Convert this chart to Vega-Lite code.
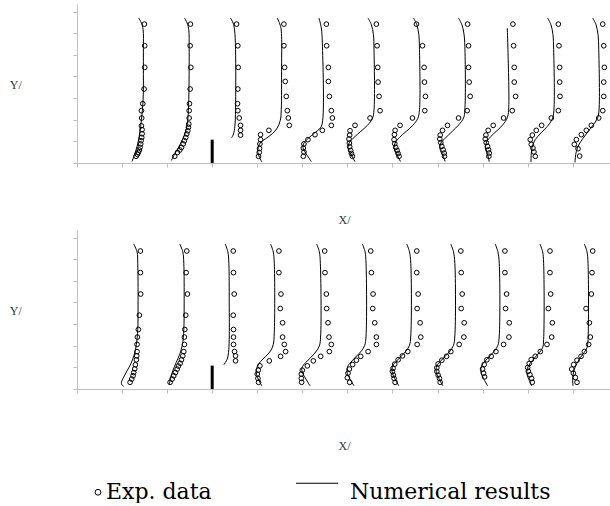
{
  "$schema": "https://vega.github.io/schema/vega-lite/v6.json",
  "padding": {"left": 9, "top": 4, "right": 0, "bottom": 0},
  "background": "white",
  "spacing": 4,
  "config": {
    "view": {"stroke": null},
    "axis": {"domainColor": "#bfbfbf", "tickColor": "#bfbfbf", "tickSize": 4, "labels": false, "grid": false, "titleFont": "Liberation Serif", "titleFontSize": 12, "titleFontWeight": "normal", "titleColor": "#333333"},
    "axisX": {"titlePadding": 47},
    "axisY": {"titleAngle": 0, "titleX": -61.7, "titleY": 80, "titleAlign": "center", "titleBaseline": "middle"}
  },
  "datasets": {
    "topLines": [
      {"profile":1,"x":1.369,"y":6.70},{"profile":1,"x":1.43,"y":6.47},{"profile":1,"x":1.467,"y":6.16},{"profile":1,"x":1.473,"y":5.3},{"profile":1,"x":1.473,"y":4.46},{"profile":1,"x":1.467,"y":2.93},{"profile":1,"x":1.429,"y":2.0},{"profile":1,"x":1.392,"y":1.39},{"profile":1,"x":1.333,"y":0.77},{"profile":1,"x":1.273,"y":0.38},{"profile":1,"x":1.222,"y":0.07},
      {"profile":2,"x":2.384,"y":6.70},{"profile":2,"x":2.445,"y":6.47},{"profile":2,"x":2.48,"y":6.16},{"profile":2,"x":2.489,"y":5.3},{"profile":2,"x":2.489,"y":4.46},{"profile":2,"x":2.48,"y":2.93},{"profile":2,"x":2.458,"y":2.0},{"profile":2,"x":2.413,"y":1.46},{"profile":2,"x":2.34,"y":1.08},{"profile":2,"x":2.244,"y":0.69},{"profile":2,"x":2.147,"y":0.34},{"profile":2,"x":2.096,"y":0.12},
      {"profile":3,"x":3.407,"y":6.70},{"profile":3,"x":3.465,"y":6.47},{"profile":3,"x":3.496,"y":6.16},{"profile":3,"x":3.518,"y":5.24},{"profile":3,"x":3.518,"y":2.46},{"profile":3,"x":3.503,"y":1.69},{"profile":3,"x":3.473,"y":1.34},{"profile":3,"x":3.429,"y":1.16},
      {"profile":4,"x":4.444,"y":6.70},{"profile":4,"x":4.518,"y":6.31},{"profile":4,"x":4.54,"y":5.85},{"profile":4,"x":4.54,"y":4.46},{"profile":4,"x":4.533,"y":2.46},{"profile":4,"x":4.511,"y":1.97},{"profile":4,"x":4.444,"y":1.62},{"profile":4,"x":4.333,"y":1.35},{"profile":4,"x":4.184,"y":1.12},{"profile":4,"x":4.073,"y":0.95},{"profile":4,"x":4.022,"y":0.72},{"profile":4,"x":4.013,"y":0.49},{"profile":4,"x":4.051,"y":0.26},{"profile":4,"x":4.102,"y":0.05},
      {"profile":5,"x":5.37,"y":6.70},{"profile":5,"x":5.422,"y":6.24},{"profile":5,"x":5.444,"y":5.55},{"profile":5,"x":5.444,"y":1.85},{"profile":5,"x":5.392,"y":1.60},{"profile":5,"x":5.274,"y":1.39},{"profile":5,"x":5.148,"y":1.17},{"profile":5,"x":5.044,"y":0.95},{"profile":5,"x":5.014,"y":0.72},{"profile":5,"x":5.073,"y":0.46},{"profile":5,"x":5.148,"y":0.23},{"profile":5,"x":5.2,"y":0.06},
      {"profile":6,"x":6.458,"y":6.70},{"profile":6,"x":6.533,"y":6.39},{"profile":6,"x":6.578,"y":5.93},{"profile":6,"x":6.591,"y":5.24},{"profile":6,"x":6.591,"y":2.46},{"profile":6,"x":6.556,"y":2.06},{"profile":6,"x":6.444,"y":1.74},{"profile":6,"x":6.296,"y":1.46},{"profile":6,"x":6.147,"y":1.18},{"profile":6,"x":6.044,"y":0.95},{"profile":6,"x":6.014,"y":0.72},{"profile":6,"x":6.051,"y":0.49},{"profile":6,"x":6.111,"y":0.28},{"profile":6,"x":6.169,"y":0.06},
      {"profile":7,"x":7.467,"y":6.70},{"profile":7,"x":7.541,"y":6.39},{"profile":7,"x":7.585,"y":5.93},{"profile":7,"x":7.6,"y":5.24},{"profile":7,"x":7.6,"y":2.46},{"profile":7,"x":7.563,"y":2.06},{"profile":7,"x":7.452,"y":1.74},{"profile":7,"x":7.304,"y":1.46},{"profile":7,"x":7.156,"y":1.18},{"profile":7,"x":7.059,"y":0.92},{"profile":7,"x":7.036,"y":0.72},{"profile":7,"x":7.07,"y":0.49},{"profile":7,"x":7.125,"y":0.28},{"profile":7,"x":7.178,"y":0.07},
      {"profile":8,"x":8.467,"y":6.70},{"profile":8,"x":8.541,"y":6.39},{"profile":8,"x":8.585,"y":6.0},{"profile":8,"x":8.607,"y":5.39},{"profile":8,"x":8.607,"y":2.46},{"profile":8,"x":8.578,"y":2.08},{"profile":8,"x":8.474,"y":1.77},{"profile":8,"x":8.326,"y":1.46},{"profile":8,"x":8.178,"y":1.16},{"profile":8,"x":8.074,"y":0.92},{"profile":8,"x":8.051,"y":0.69},{"profile":8,"x":8.089,"y":0.46},{"profile":8,"x":8.133,"y":0.28},{"profile":8,"x":8.169,"y":0.07},
      {"profile":9,"x":9.548,"y":6.24},{"profile":9,"x":9.563,"y":5.24},{"profile":9,"x":9.578,"y":2.46},{"profile":9,"x":9.548,"y":2.09},{"profile":9,"x":9.451,"y":1.77},{"profile":9,"x":9.318,"y":1.49},{"profile":9,"x":9.185,"y":1.23},{"profile":9,"x":9.089,"y":0.97},{"profile":9,"x":9.059,"y":0.72},{"profile":9,"x":9.089,"y":0.49},{"profile":9,"x":9.125,"y":0.28},{"profile":9,"x":9.148,"y":0.06},
      {"profile":10,"x":10.444,"y":6.70},{"profile":10,"x":10.518,"y":6.39},{"profile":10,"x":10.562,"y":5.93},{"profile":10,"x":10.578,"y":5.24},{"profile":10,"x":10.578,"y":2.31},{"profile":10,"x":10.54,"y":2.0},{"profile":10,"x":10.436,"y":1.69},{"profile":10,"x":10.296,"y":1.39},{"profile":10,"x":10.17,"y":1.08},{"profile":10,"x":10.104,"y":0.77},{"profile":10,"x":10.081,"y":0.46},{"profile":10,"x":10.074,"y":0.05},
      {"profile":11,"x":11.444,"y":6.70},{"profile":11,"x":11.518,"y":6.39},{"profile":11,"x":11.562,"y":5.93},{"profile":11,"x":11.578,"y":5.24},{"profile":11,"x":11.578,"y":2.31},{"profile":11,"x":11.54,"y":2.03},{"profile":11,"x":11.451,"y":1.75},{"profile":11,"x":11.34,"y":1.45},{"profile":11,"x":11.229,"y":1.14},{"profile":11,"x":11.133,"y":0.83},{"profile":11,"x":11.081,"y":0.54},{"profile":11,"x":11.059,"y":0.25},{"profile":11,"x":11.051,"y":0.03}
    ],
    "topPoints": [
      {"profile":1,"x":1.496,"y":6.42},{"profile":1,"x":1.503,"y":5.42},{"profile":1,"x":1.503,"y":4.42},{"profile":1,"x":1.489,"y":3.42},{"profile":1,"x":1.459,"y":2.74},{"profile":1,"x":1.429,"y":2.42},{"profile":1,"x":1.436,"y":2.08},{"profile":1,"x":1.429,"y":1.72},{"profile":1,"x":1.444,"y":1.54},{"profile":1,"x":1.444,"y":1.35},{"profile":1,"x":1.436,"y":1.18},{"profile":1,"x":1.422,"y":1.03},{"profile":1,"x":1.414,"y":0.88},{"profile":1,"x":1.4,"y":0.72},{"profile":1,"x":1.384,"y":0.60},{"profile":1,"x":1.362,"y":0.49},{"profile":1,"x":1.34,"y":0.40},{"profile":1,"x":1.311,"y":0.31},
      {"profile":2,"x":2.518,"y":6.42},{"profile":2,"x":2.511,"y":5.42},{"profile":2,"x":2.525,"y":4.42},{"profile":2,"x":2.511,"y":3.42},{"profile":2,"x":2.496,"y":2.74},{"profile":2,"x":2.489,"y":2.42},{"profile":2,"x":2.489,"y":2.08},{"profile":2,"x":2.481,"y":1.80},{"profile":2,"x":2.473,"y":1.65},{"profile":2,"x":2.458,"y":1.49},{"profile":2,"x":2.436,"y":1.34},{"profile":2,"x":2.413,"y":1.18},{"profile":2,"x":2.384,"y":1.03},{"profile":2,"x":2.356,"y":0.88},{"profile":2,"x":2.318,"y":0.72},{"profile":2,"x":2.281,"y":0.60},{"profile":2,"x":2.23,"y":0.49},{"profile":2,"x":2.169,"y":0.31},
      {"profile":3,"x":3.54,"y":6.42},{"profile":3,"x":3.569,"y":5.42},{"profile":3,"x":3.577,"y":4.42},{"profile":3,"x":3.569,"y":3.42},{"profile":3,"x":3.562,"y":2.74},{"profile":3,"x":3.569,"y":2.42},{"profile":3,"x":3.6,"y":2.08},{"profile":3,"x":3.629,"y":1.74},{"profile":3,"x":3.629,"y":1.51},{"profile":3,"x":3.629,"y":1.29},
      {"profile":4,"x":4.592,"y":6.42},{"profile":4,"x":4.592,"y":5.42},{"profile":4,"x":4.607,"y":4.42},{"profile":4,"x":4.622,"y":3.77},{"profile":4,"x":4.644,"y":3.08},{"profile":4,"x":4.667,"y":2.42},{"profile":4,"x":4.689,"y":2.08},{"profile":4,"x":4.711,"y":1.74},{"profile":4,"x":4.258,"y":1.51},{"profile":4,"x":4.073,"y":1.31},{"profile":4,"x":4.073,"y":1.08},{"profile":4,"x":4.059,"y":0.88},{"profile":4,"x":4.051,"y":0.67},{"profile":4,"x":4.044,"y":0.49},{"profile":4,"x":4.029,"y":0.31},
      {"profile":5,"x":5.533,"y":6.42},{"profile":5,"x":5.54,"y":5.42},{"profile":5,"x":5.578,"y":4.42},{"profile":5,"x":5.578,"y":3.77},{"profile":5,"x":5.6,"y":3.08},{"profile":5,"x":5.644,"y":2.42},{"profile":5,"x":5.667,"y":2.08},{"profile":5,"x":5.644,"y":1.74},{"profile":5,"x":5.444,"y":1.51},{"profile":5,"x":5.281,"y":1.31},{"profile":5,"x":5.125,"y":1.08},{"profile":5,"x":5.036,"y":0.88},{"profile":5,"x":5.022,"y":0.69},{"profile":5,"x":5.036,"y":0.51},{"profile":5,"x":5.022,"y":0.31},
      {"profile":6,"x":6.644,"y":6.42},{"profile":6,"x":6.659,"y":5.42},{"profile":6,"x":6.673,"y":4.42},{"profile":6,"x":6.681,"y":3.74},{"profile":6,"x":6.703,"y":3.08},{"profile":6,"x":6.725,"y":2.42},{"profile":6,"x":6.503,"y":2.08},{"profile":6,"x":6.169,"y":1.74},{"profile":6,"x":6.059,"y":1.49},{"profile":6,"x":6.051,"y":1.29},{"profile":6,"x":6.036,"y":1.11},{"profile":6,"x":6.044,"y":0.92},{"profile":6,"x":6.051,"y":0.75},{"profile":6,"x":6.073,"y":0.58},{"profile":6,"x":6.089,"y":0.44},{"profile":6,"x":6.111,"y":0.31},
      {"profile":7,"x":7.533,"y":6.42},{"profile":7,"x":7.667,"y":5.42},{"profile":7,"x":7.703,"y":4.42},{"profile":7,"x":7.711,"y":3.74},{"profile":7,"x":7.733,"y":3.08},{"profile":7,"x":7.718,"y":2.42},{"profile":7,"x":7.444,"y":2.08},{"profile":7,"x":7.169,"y":1.74},{"profile":7,"x":7.059,"y":1.51},{"profile":7,"x":7.044,"y":1.31},{"profile":7,"x":7.036,"y":1.08},{"profile":7,"x":7.051,"y":0.89},{"profile":7,"x":7.073,"y":0.72},{"profile":7,"x":7.103,"y":0.58},{"profile":7,"x":7.125,"y":0.44},{"profile":7,"x":7.147,"y":0.31},
      {"profile":8,"x":8.667,"y":6.42},{"profile":8,"x":8.689,"y":5.42},{"profile":8,"x":8.689,"y":4.42},{"profile":8,"x":8.703,"y":3.74},{"profile":8,"x":8.725,"y":3.08},{"profile":8,"x":8.659,"y":2.42},{"profile":8,"x":8.467,"y":2.08},{"profile":8,"x":8.222,"y":1.74},{"profile":8,"x":8.111,"y":1.51},{"profile":8,"x":8.059,"y":1.29},{"profile":8,"x":8.051,"y":1.11},{"profile":8,"x":8.073,"y":0.94},{"profile":8,"x":8.096,"y":0.77},{"profile":8,"x":8.125,"y":0.61},{"profile":8,"x":8.148,"y":0.46},{"profile":8,"x":8.155,"y":0.31},
      {"profile":9,"x":9.674,"y":6.42},{"profile":9,"x":9.689,"y":5.42},{"profile":9,"x":9.703,"y":4.42},{"profile":9,"x":9.703,"y":3.74},{"profile":9,"x":9.733,"y":3.08},{"profile":9,"x":9.659,"y":2.42},{"profile":9,"x":9.466,"y":2.08},{"profile":9,"x":9.236,"y":1.74},{"profile":9,"x":9.125,"y":1.51},{"profile":9,"x":9.074,"y":1.29},{"profile":9,"x":9.059,"y":1.11},{"profile":9,"x":9.081,"y":0.94},{"profile":9,"x":9.111,"y":0.77},{"profile":9,"x":9.133,"y":0.61},{"profile":9,"x":9.148,"y":0.46},{"profile":9,"x":9.14,"y":0.31},
      {"profile":10,"x":10.681,"y":6.42},{"profile":10,"x":10.696,"y":5.42},{"profile":10,"x":10.711,"y":4.42},{"profile":10,"x":10.711,"y":3.74},{"profile":10,"x":10.718,"y":3.08},{"profile":10,"x":10.681,"y":2.42},{"profile":10,"x":10.525,"y":2.08},{"profile":10,"x":10.311,"y":1.74},{"profile":10,"x":10.192,"y":1.51},{"profile":10,"x":10.104,"y":1.29},{"profile":10,"x":10.059,"y":1.08},{"profile":10,"x":10.081,"y":0.86},{"profile":10,"x":10.118,"y":0.69},{"profile":10,"x":10.14,"y":0.51},{"profile":10,"x":10.17,"y":0.31},
      {"profile":11,"x":11.667,"y":6.42},{"profile":11,"x":11.689,"y":5.42},{"profile":11,"x":11.703,"y":4.42},{"profile":11,"x":11.689,"y":3.74},{"profile":11,"x":11.689,"y":3.08},{"profile":11,"x":11.667,"y":2.42},{"profile":11,"x":11.578,"y":2.08},{"profile":11,"x":11.414,"y":1.74},{"profile":11,"x":11.303,"y":1.51},{"profile":11,"x":11.192,"y":1.31},{"profile":11,"x":11.081,"y":1.08},{"profile":11,"x":11.036,"y":0.86},{"profile":11,"x":11.118,"y":0.66},{"profile":11,"x":11.155,"y":0.32}
    ],
    "bottomLines": [
      {"profile":1,"x":1.259,"y":6.70},{"profile":1,"x":1.333,"y":6.34},{"profile":1,"x":1.348,"y":5.81},{"profile":1,"x":1.355,"y":3.98},{"profile":1,"x":1.348,"y":2.75},{"profile":1,"x":1.318,"y":2.06},{"profile":1,"x":1.273,"y":1.61},{"profile":1,"x":1.2,"y":1.19},{"profile":1,"x":1.111,"y":0.84},{"profile":1,"x":1.037,"y":0.55},{"profile":1,"x":0.985,"y":0.31},{"profile":1,"x":0.992,"y":0.21},{"profile":1,"x":1.037,"y":0.12},
      {"profile":2,"x":2.281,"y":6.70},{"profile":2,"x":2.348,"y":6.34},{"profile":2,"x":2.37,"y":5.81},{"profile":2,"x":2.378,"y":3.98},{"profile":2,"x":2.37,"y":2.75},{"profile":2,"x":2.34,"y":2.05},{"profile":2,"x":2.281,"y":1.61},{"profile":2,"x":2.2,"y":1.22},{"profile":2,"x":2.126,"y":0.84},{"profile":2,"x":2.074,"y":0.50},{"profile":2,"x":2.048,"y":0.18},
      {"profile":3,"x":3.289,"y":6.70},{"profile":3,"x":3.348,"y":6.34},{"profile":3,"x":3.37,"y":5.81},{"profile":3,"x":3.378,"y":3.98},{"profile":3,"x":3.378,"y":2.29},{"profile":3,"x":3.362,"y":1.68},{"profile":3,"x":3.333,"y":1.38},{"profile":3,"x":3.259,"y":1.12},
      {"profile":4,"x":4.296,"y":6.70},{"profile":4,"x":4.355,"y":6.34},{"profile":4,"x":4.378,"y":5.81},{"profile":4,"x":4.378,"y":2.60},{"profile":4,"x":4.355,"y":2.06},{"profile":4,"x":4.296,"y":1.76},{"profile":4,"x":4.184,"y":1.50},{"profile":4,"x":4.073,"y":1.27},{"profile":4,"x":4.0,"y":1.04},{"profile":4,"x":3.978,"y":0.76},{"profile":4,"x":4.022,"y":0.46},{"profile":4,"x":4.102,"y":0.15},
      {"profile":5,"x":5.318,"y":6.70},{"profile":5,"x":5.378,"y":6.34},{"profile":5,"x":5.4,"y":5.81},{"profile":5,"x":5.407,"y":2.45},{"profile":5,"x":5.378,"y":1.99},{"profile":5,"x":5.296,"y":1.71},{"profile":5,"x":5.185,"y":1.45},{"profile":5,"x":5.074,"y":1.22},{"profile":5,"x":4.992,"y":0.98},{"profile":5,"x":5.007,"y":0.73},{"profile":5,"x":5.081,"y":0.46},{"profile":5,"x":5.17,"y":0.15},
      {"profile":6,"x":6.333,"y":6.70},{"profile":6,"x":6.392,"y":6.34},{"profile":6,"x":6.414,"y":5.81},{"profile":6,"x":6.414,"y":2.45},{"profile":6,"x":6.385,"y":2.02},{"profile":6,"x":6.311,"y":1.76},{"profile":6,"x":6.207,"y":1.53},{"profile":6,"x":6.103,"y":1.30},{"profile":6,"x":6.014,"y":1.07},{"profile":6,"x":5.992,"y":0.79},{"profile":6,"x":6.051,"y":0.49},{"profile":6,"x":6.147,"y":0.15},
      {"profile":7,"x":7.318,"y":6.70},{"profile":7,"x":7.378,"y":6.34},{"profile":7,"x":7.407,"y":5.81},{"profile":7,"x":7.407,"y":2.45},{"profile":7,"x":7.378,"y":2.02},{"profile":7,"x":7.303,"y":1.76},{"profile":7,"x":7.2,"y":1.53},{"profile":7,"x":7.096,"y":1.30},{"profile":7,"x":7.007,"y":1.07},{"profile":7,"x":6.992,"y":0.79},{"profile":7,"x":7.051,"y":0.49},{"profile":7,"x":7.14,"y":0.15},
      {"profile":8,"x":8.296,"y":6.70},{"profile":8,"x":8.355,"y":6.34},{"profile":8,"x":8.385,"y":5.81},{"profile":8,"x":8.385,"y":2.45},{"profile":8,"x":8.355,"y":2.02},{"profile":8,"x":8.281,"y":1.76},{"profile":8,"x":8.178,"y":1.53},{"profile":8,"x":8.074,"y":1.30},{"profile":8,"x":7.985,"y":1.07},{"profile":8,"x":7.97,"y":0.79},{"profile":8,"x":8.029,"y":0.49},{"profile":8,"x":8.118,"y":0.15},
      {"profile":9,"x":9.281,"y":6.70},{"profile":9,"x":9.34,"y":6.34},{"profile":9,"x":9.37,"y":5.81},{"profile":9,"x":9.37,"y":2.45},{"profile":9,"x":9.34,"y":2.02},{"profile":9,"x":9.266,"y":1.76},{"profile":9,"x":9.163,"y":1.53},{"profile":9,"x":9.059,"y":1.30},{"profile":9,"x":8.978,"y":1.07},{"profile":9,"x":8.963,"y":0.79},{"profile":9,"x":9.022,"y":0.49},{"profile":9,"x":9.111,"y":0.15},
      {"profile":10,"x":10.273,"y":6.70},{"profile":10,"x":10.333,"y":6.34},{"profile":10,"x":10.355,"y":5.81},{"profile":10,"x":10.355,"y":2.29},{"profile":10,"x":10.333,"y":1.91},{"profile":10,"x":10.259,"y":1.68},{"profile":10,"x":10.155,"y":1.44},{"profile":10,"x":10.059,"y":1.19},{"profile":10,"x":9.992,"y":0.95},{"profile":10,"x":9.985,"y":0.69},{"profile":10,"x":10.029,"y":0.43},{"profile":10,"x":10.089,"y":0.15},
      {"profile":11,"x":11.259,"y":6.70},{"profile":11,"x":11.318,"y":6.34},{"profile":11,"x":11.34,"y":5.81},{"profile":11,"x":11.34,"y":2.29},{"profile":11,"x":11.318,"y":1.91},{"profile":11,"x":11.259,"y":1.70},{"profile":11,"x":11.17,"y":1.45},{"profile":11,"x":11.096,"y":1.19},{"profile":11,"x":11.037,"y":0.92},{"profile":11,"x":11.007,"y":0.64},{"profile":11,"x":11.0,"y":0.38},{"profile":11,"x":11.007,"y":0.15}
    ],
    "bottomPoints": [
      {"profile":1,"x":1.407,"y":6.38},{"profile":1,"x":1.407,"y":5.38},{"profile":1,"x":1.414,"y":4.39},{"profile":1,"x":1.384,"y":3.41},{"profile":1,"x":1.362,"y":2.75},{"profile":1,"x":1.34,"y":2.40},{"profile":1,"x":1.333,"y":2.06},{"profile":1,"x":1.333,"y":1.73},{"profile":1,"x":1.326,"y":1.53},{"profile":1,"x":1.318,"y":1.35},{"profile":1,"x":1.296,"y":1.12},{"profile":1,"x":1.281,"y":0.93},{"profile":1,"x":1.259,"y":0.76},{"profile":1,"x":1.244,"y":0.61},{"profile":1,"x":1.215,"y":0.46},{"profile":1,"x":1.178,"y":0.31},
      {"profile":2,"x":2.437,"y":6.38},{"profile":2,"x":2.422,"y":5.38},{"profile":2,"x":2.451,"y":4.39},{"profile":2,"x":2.414,"y":3.41},{"profile":2,"x":2.392,"y":2.75},{"profile":2,"x":2.384,"y":2.40},{"profile":2,"x":2.384,"y":2.06},{"profile":2,"x":2.37,"y":1.73},{"profile":2,"x":2.348,"y":1.53},{"profile":2,"x":2.318,"y":1.35},{"profile":2,"x":2.289,"y":1.19},{"profile":2,"x":2.251,"y":1.06},{"profile":2,"x":2.222,"y":0.92},{"profile":2,"x":2.184,"y":0.76},{"profile":2,"x":2.147,"y":0.61},{"profile":2,"x":2.111,"y":0.46},{"profile":2,"x":2.066,"y":0.31},
      {"profile":3,"x":3.467,"y":6.38},{"profile":3,"x":3.473,"y":5.38},{"profile":3,"x":3.489,"y":4.39},{"profile":3,"x":3.467,"y":3.41},{"profile":3,"x":3.473,"y":2.75},{"profile":3,"x":3.473,"y":2.40},{"profile":3,"x":3.473,"y":2.06},{"profile":3,"x":3.496,"y":1.73},{"profile":3,"x":3.518,"y":1.53},{"profile":3,"x":3.518,"y":1.30},
      {"profile":4,"x":4.481,"y":6.38},{"profile":4,"x":4.481,"y":5.38},{"profile":4,"x":4.526,"y":4.39},{"profile":4,"x":4.511,"y":3.72},{"profile":4,"x":4.562,"y":3.06},{"profile":4,"x":4.562,"y":2.40},{"profile":4,"x":4.6,"y":2.06},{"profile":4,"x":4.629,"y":1.73},{"profile":4,"x":4.518,"y":1.51},{"profile":4,"x":4.267,"y":1.30},{"profile":4,"x":4.059,"y":1.07},{"profile":4,"x":4.022,"y":0.87},{"profile":4,"x":4.0,"y":0.69},{"profile":4,"x":4.015,"y":0.49},{"profile":4,"x":4.029,"y":0.31},
      {"profile":5,"x":5.496,"y":6.38},{"profile":5,"x":5.503,"y":5.38},{"profile":5,"x":5.533,"y":4.39},{"profile":5,"x":5.54,"y":3.72},{"profile":5,"x":5.57,"y":3.06},{"profile":5,"x":5.592,"y":2.40},{"profile":5,"x":5.644,"y":2.06},{"profile":5,"x":5.6,"y":1.73},{"profile":5,"x":5.407,"y":1.51},{"profile":5,"x":5.244,"y":1.30},{"profile":5,"x":5.111,"y":1.07},{"profile":5,"x":5.0,"y":0.87},{"profile":5,"x":4.978,"y":0.69},{"profile":5,"x":4.978,"y":0.49},{"profile":5,"x":4.985,"y":0.31},
      {"profile":6,"x":6.518,"y":6.38},{"profile":6,"x":6.533,"y":5.38},{"profile":6,"x":6.57,"y":4.39},{"profile":6,"x":6.562,"y":3.72},{"profile":6,"x":6.607,"y":3.06},{"profile":6,"x":6.644,"y":2.40},{"profile":6,"x":6.644,"y":2.06},{"profile":6,"x":6.459,"y":1.73},{"profile":6,"x":6.296,"y":1.51},{"profile":6,"x":6.2,"y":1.33},{"profile":6,"x":6.118,"y":1.13},{"profile":6,"x":6.044,"y":0.92},{"profile":6,"x":6.014,"y":0.73},{"profile":6,"x":6.0,"y":0.52},{"profile":6,"x":6.051,"y":0.31},
      {"profile":7,"x":7.54,"y":6.38},{"profile":7,"x":7.54,"y":5.38},{"profile":7,"x":7.57,"y":4.39},{"profile":7,"x":7.548,"y":3.72},{"profile":7,"x":7.614,"y":3.06},{"profile":7,"x":7.629,"y":2.40},{"profile":7,"x":7.548,"y":2.06},{"profile":7,"x":7.34,"y":1.73},{"profile":7,"x":7.222,"y":1.53},{"profile":7,"x":7.126,"y":1.35},{"profile":7,"x":7.051,"y":1.15},{"profile":7,"x":7.014,"y":0.96},{"profile":7,"x":7.0,"y":0.81},{"profile":7,"x":7.022,"y":0.64},{"profile":7,"x":7.037,"y":0.49},{"profile":7,"x":7.059,"y":0.31},
      {"profile":8,"x":8.518,"y":6.38},{"profile":8,"x":8.526,"y":5.38},{"profile":8,"x":8.548,"y":4.39},{"profile":8,"x":8.526,"y":3.72},{"profile":8,"x":8.592,"y":3.06},{"profile":8,"x":8.585,"y":2.40},{"profile":8,"x":8.481,"y":2.06},{"profile":8,"x":8.296,"y":1.73},{"profile":8,"x":8.2,"y":1.51},{"profile":8,"x":8.096,"y":1.33},{"profile":8,"x":8.014,"y":1.16},{"profile":8,"x":7.985,"y":0.98},{"profile":8,"x":7.985,"y":0.81},{"profile":8,"x":8.014,"y":0.64},{"profile":8,"x":8.044,"y":0.49},{"profile":8,"x":8.059,"y":0.31},
      {"profile":9,"x":9.496,"y":6.38},{"profile":9,"x":9.496,"y":5.38},{"profile":9,"x":9.533,"y":4.39},{"profile":9,"x":9.511,"y":3.72},{"profile":9,"x":9.592,"y":3.06},{"profile":9,"x":9.585,"y":2.40},{"profile":9,"x":9.467,"y":2.06},{"profile":9,"x":9.296,"y":1.73},{"profile":9,"x":9.192,"y":1.51},{"profile":9,"x":9.096,"y":1.35},{"profile":9,"x":9.036,"y":1.13},{"profile":9,"x":9.0,"y":0.92},{"profile":9,"x":9.022,"y":0.73},{"profile":9,"x":9.044,"y":0.56},
      {"profile":10,"x":10.496,"y":6.38},{"profile":10,"x":10.496,"y":5.38},{"profile":10,"x":10.511,"y":4.39},{"profile":10,"x":10.459,"y":3.72},{"profile":10,"x":10.548,"y":3.06},{"profile":10,"x":10.533,"y":2.40},{"profile":10,"x":10.429,"y":2.06},{"profile":10,"x":10.281,"y":1.73},{"profile":10,"x":10.17,"y":1.51},{"profile":10,"x":10.081,"y":1.36},{"profile":10,"x":10.036,"y":1.18},{"profile":10,"x":10.0,"y":0.99},{"profile":10,"x":10.015,"y":0.82},{"profile":10,"x":10.051,"y":0.66},{"profile":10,"x":10.089,"y":0.49},{"profile":10,"x":10.103,"y":0.31},
      {"profile":11,"x":11.444,"y":6.38},{"profile":11,"x":11.429,"y":5.38},{"profile":11,"x":11.414,"y":4.39},{"profile":11,"x":11.296,"y":3.72},{"profile":11,"x":11.37,"y":3.06},{"profile":11,"x":11.392,"y":2.40},{"profile":11,"x":11.355,"y":2.06},{"profile":11,"x":11.259,"y":1.73},{"profile":11,"x":11.185,"y":1.51},{"profile":11,"x":11.096,"y":1.33},{"profile":11,"x":11.022,"y":1.13},{"profile":11,"x":10.978,"y":0.92},{"profile":11,"x":11.014,"y":0.73},{"profile":11,"x":11.059,"y":0.53},{"profile":11,"x":11.096,"y":0.31}
    ],
    "steps": [{"x": 3.0, "y": 0, "y2": 1.08}]
  },
  "vconcat": [
    {
      "width": 534,
      "height": 159,
      "encoding": {
        "x": {"field": "x", "type": "quantitative", "scale": {"domain": [0, 11.85], "nice": false, "zero": false}, "axis": {"title": "X/", "values": [0,1,2,3,4,5,6,7,8,9,10,11]}},
        "y": {"field": "y", "type": "quantitative", "scale": {"domain": [0, 7.35], "nice": false}, "axis": {"title": "Y/", "values": [0,1,2,3,4,5,6,7]}}
      },
      "layer": [
        {
          "data": {"name": "topLines"},
          "mark": {"type": "line", "strokeWidth": 1, "interpolate": "catmull-rom"},
          "encoding": {
            "detail": {"field": "profile", "type": "nominal"},
            "order": {"field": "y", "type": "quantitative"},
            "color": {
              "datum": "Numerical results", "type": "nominal",
              "scale": {"domain": ["Exp. data", "Numerical results"], "range": ["black", "black"]},
              "legend": {
                "title": null, "orient": "none", "legendX": -26, "legendY": 466, "direction": "horizontal",
                "symbolType": "stroke", "symbolSize": 1764, "symbolStrokeWidth": 1, "symbolStrokeColor": "black",
                "labelFont": "DejaVu Serif", "labelFontSize": 22, "labelColor": "black", "labelOffset": 12, "labelLimit": 400,
                "columnPadding": 82, "padding": 0,
                "encode": {"symbols": {"update": {
                  "shape": {"signal": "datum.value === 'Exp. data' ? 'circle' : 'stroke'"},
                  "size": {"signal": "datum.value === 'Exp. data' ? 34 : 1764"},
                  "x": {"signal": "datum.value === 'Exp. data' ? 47 : 22"},
                  "y": {"signal": "datum.value === 'Exp. data' ? 22 : 13"},
                  "fill": {"value": "transparent"},
                  "stroke": {"value": "black"},
                  "strokeWidth": {"value": 1}
                }}}
              }
            }
          }
        },
        {
          "data": {"name": "topPoints"},
          "mark": {"type": "point", "filled": false, "size": 22, "strokeWidth": 1, "opacity": 1},
          "encoding": {"color": {"datum": "Exp. data", "type": "nominal"}}
        },
        {
          "data": {"name": "steps"},
          "mark": {"type": "rule", "strokeWidth": 3, "color": "black"},
          "encoding": {"y2": {"field": "y2"}}
        }
      ]
    },
    {
      "width": 534,
      "height": 159,
      "encoding": {
        "x": {"field": "x", "type": "quantitative", "scale": {"domain": [0, 11.85], "nice": false, "zero": false}, "axis": {"title": "X/", "values": [0,1,2,3,4,5,6,7,8,9,10,11]}},
        "y": {"field": "y", "type": "quantitative", "scale": {"domain": [0, 7.35], "nice": false}, "axis": {"title": "Y/", "values": [0,1,2,3,4,5,6,7]}}
      },
      "layer": [
        {
          "data": {"name": "bottomLines"},
          "mark": {"type": "line", "strokeWidth": 1, "interpolate": "catmull-rom"},
          "encoding": {
            "detail": {"field": "profile", "type": "nominal"},
            "order": {"field": "y", "type": "quantitative"},
            "color": {"datum": "Numerical results", "type": "nominal"}
          }
        },
        {
          "data": {"name": "bottomPoints"},
          "mark": {"type": "point", "filled": false, "size": 22, "strokeWidth": 1, "opacity": 1},
          "encoding": {"color": {"datum": "Exp. data", "type": "nominal"}}
        },
        {
          "data": {"name": "steps"},
          "mark": {"type": "rule", "strokeWidth": 3, "color": "black"},
          "encoding": {"y2": {"field": "y2"}}
        }
      ]
    }
  ]
}
